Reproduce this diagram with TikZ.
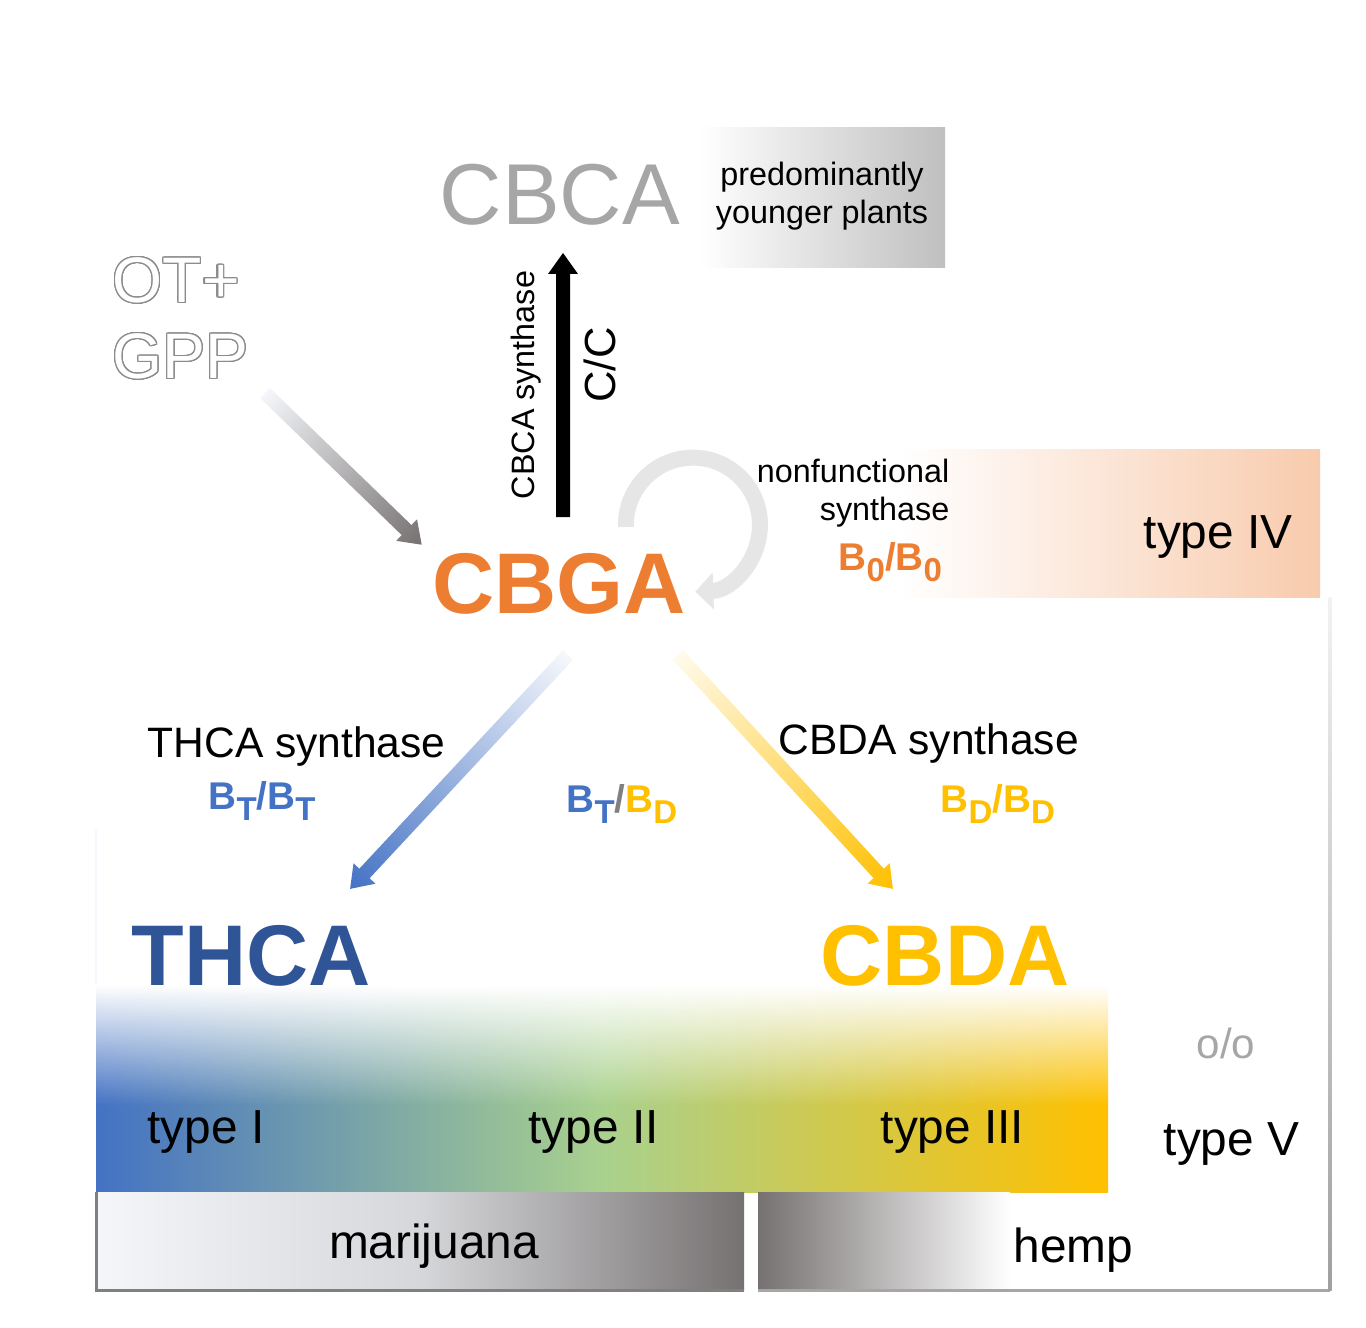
\documentclass[tikz,border=0pt]{standalone}
\usepackage{fontspec}
\setmainfont{Liberation Sans}
\usepackage[copies]{contour}
\contourlength{0.35pt}
\contournumber{24}
\usetikzlibrary{calc,arrows.meta,fadings}

\definecolor{cbgaorange}{HTML}{ED7D31}
\definecolor{thcablue}{HTML}{2F5597}
\definecolor{blue1}{HTML}{4472C4}
\definecolor{green1}{HTML}{A9D18E}
\definecolor{yellow1}{HTML}{FFC000}
\definecolor{salmon}{HTML}{F8CBAD}
\definecolor{cbcagrey}{HTML}{A6A6A6}
\definecolor{loopgrey}{HTML}{E6E6E6}
\definecolor{darkgrey}{HTML}{767171}
\definecolor{mjleft}{HTML}{F4F6FA}
\definecolor{mjmid}{HTML}{D6D7DA}

% B with a lowered allele letter
\newcommand\bsub[1]{B\raisebox{-0.3em}{\fontsize{9.4}{9.4}\selectfont #1}}

% shaded block arrow between two named points
\newcommand\shadearrow[4]{%
  \path let \p1=(#1), \p2=(#2) in \pgfextra{%
    \pgfmathsetmacro\arrang{atan2(\y2-\y1,\x2-\x1)}%
    \pgfmathsetmacro\arrlen{veclen(\x2-\x1,\y2-\y1)}%
    \xdef\arrang{\arrang}\xdef\arrlen{\arrlen}%
    \xdef\arrx{\x1}\xdef\arry{\y1}};
  \shade[transform canvas={shift={(\arrx,\arry)},rotate=\arrang}, left color=#3, right color=#4]
    (0,-0.07) -- ({\arrlen pt-0.21cm},-0.07) -- ({\arrlen pt-0.21cm},-0.15)
    -- ({\arrlen pt},0) -- ({\arrlen pt-0.21cm},0.15) -- ({\arrlen pt-0.21cm},0.07)
    -- (0,0.07) -- cycle;
}

\begin{document}
\begin{tikzpicture}[
  every node/.style={inner sep=0pt},
  huge/.style={font=\fontsize{24.5}{29}\selectfont\bfseries},
  typelabel/.style={font=\fontsize{13.6}{16}\selectfont, anchor=base west},
  enzyme/.style={font=\fontsize{12.1}{14}\selectfont, anchor=base west},
  note/.style={font=\fontsize{9.2}{10.8}\selectfont},
  allele/.style={font=\fontsize{11}{13}\selectfont\bfseries, anchor=base west}
]
\useasboundingbox (0,0) rectangle (13.66,13.27);

% shaded boxes
\shade[left color=white, right color=gray!50] (7.00,11.99) rectangle (9.45,10.59);
\shade[left color=white, right color=salmon] (9.00,8.78) rectangle (13.20,7.30);
\shade[left color=blue1, right color=yellow1, middle color=green1, path fading=north] (0.96,3.42) rectangle (11.08,2.22);
\shade[left color=blue1, right color=yellow1, middle color=green1] (0.96,2.22) rectangle (11.08,1.35);
\shade[left color=mjleft, right color=darkgrey, middle color=mjmid] (0.96,1.35) rectangle (7.44,0.37);
\shade[left color=darkgrey, right color=white] (7.58,1.35) rectangle (10.10,0.37);

% frame
\draw[black!50, line width=0.03cm] (0.96,1.35) -- (0.96,0.37) -- (7.44,0.37);
\draw[black!35, line width=0.03cm] (7.58,0.37) -- (13.30,0.37);
\shade[top color=gray!10, bottom color=gray!75] (13.285,7.30) rectangle (13.315,0.37);
\draw[blue1!6, line width=0.02cm] (0.96,4.97) -- (0.96,3.42);

% compounds
\node[font=\fontsize{24.6}{29}\selectfont, text=cbcagrey, anchor=base] (cbca) at (5.60,11.02) {CBCA};
\node[note, align=center, anchor=north] (young) at (8.22,11.66) {predominantly\\younger plants};
\node[font=\fontsize{18.3}{21.6}\selectfont, text=white, align=left, anchor=north west] (otgpp) at (1.12,10.70)
  {\contour{black!45}{OT+}\\\contour{black!45}{GPP}};
\node[huge, text=cbgaorange, anchor=base] (cbga) at (5.59,7.14) {CBGA};
\node[huge, text=thcablue, anchor=base west] (thca) at (1.31,3.42) {THCA};
\node[huge, text=yellow1, anchor=base west] (cbda) at (8.20,3.42) {CBDA};

% enzymes and genotypes
\node[note, rotate=90] (cbcasyn) at (5.265,9.42) {CBCA synthase};
\node[font=\fontsize{12.4}{14}\selectfont, rotate=90] (cc) at (6.00,9.62) {C/C};
\node[note, align=right, anchor=north east] (nonfunc) at (9.50,8.69) {nonfunctional\\synthase};
\node[allele, text=cbgaorange] (b0b0) at (8.38,7.57) {\bsub{0}/\bsub{0}};
\node[enzyme] (thcasyn) at (1.47,5.70) {THCA synthase};
\node[enzyme] (cbdasyn) at (7.78,5.73) {CBDA synthase};
\node[allele, text=blue1] (btbt) at (2.08,5.18) {\bsub{T}/\bsub{T}};
\node[allele] (btbd) at (5.66,5.15) {\textcolor{blue1}{\bsub{T}}\textcolor{gray}{/}\textcolor{yellow1}{\bsub{D}}};
\node[allele, text=yellow1] (bdbd) at (9.40,5.15) {\bsub{D}/\bsub{D}};

% chemotypes
\node[typelabel] (type4) at (11.43,7.79) {type IV};
\node[typelabel] (type1) at (1.47,1.84) {type I};
\node[typelabel] (type2) at (5.28,1.84) {type II};
\node[typelabel] (type3) at (8.80,1.84) {type III};
\node[font=\fontsize{12}{14}\selectfont, text=cbcagrey, anchor=base west] (oo) at (11.96,2.69) {o/o};
\node[typelabel] (type5) at (11.63,1.72) {type V};
\node[typelabel, anchor=base] (marij) at (4.34,0.69) {marijuana};
\node[typelabel] (hemp) at (10.13,0.65) {hemp};

% arrows
\coordinate (gpp-out) at (2.65,9.34);
\coordinate (cbga-in) at (4.22,7.82);
\coordinate (cbga-top) at (5.63,8.10);
\coordinate (cbca-in) at (5.63,10.74);
\coordinate (cbga-sw) at (5.68,6.72);
\coordinate (thca-in) at (3.50,4.38);
\coordinate (cbga-se) at (6.78,6.72);
\coordinate (cbda-in) at (8.93,4.38);
\coordinate (loop) at (6.26,8.00);

\shadearrow{gpp-out}{cbga-in}{mjleft}{darkgrey}
\shadearrow{cbga-top}{cbca-in}{black}{black}
\shadearrow{cbga-sw}{thca-in}{blue1!5}{blue1}
\shadearrow{cbga-se}{cbda-in}{yellow1!8}{yellow1}
\draw[loopgrey, line width=0.16cm, -{Triangle[width=0.36cm,length=0.18cm]}]
  (loop) arc[start angle=182, end angle=-88, radius=0.67];
\end{tikzpicture}
\end{document}
